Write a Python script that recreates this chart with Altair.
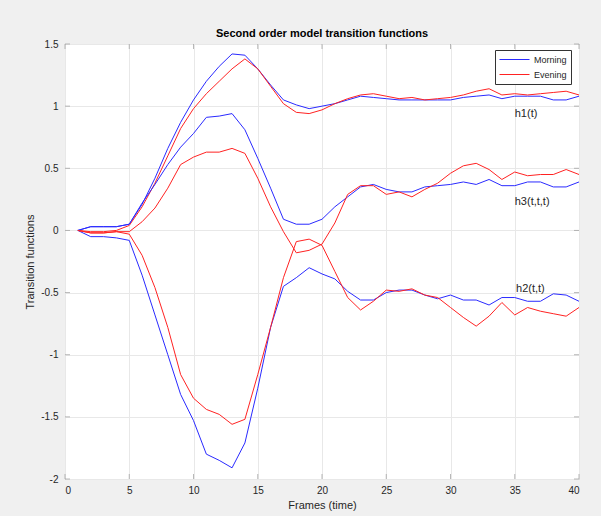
import altair as alt
import pandas as pd

# Frame index (time) shared by all curves
frames = list(range(1, 41))

# First order kernel h1(t)
h1_morning = [0, 0.03, 0.03, 0.03, 0.05, 0.21, 0.42, 0.66, 0.87, 1.05,
              1.20, 1.32, 1.42, 1.41, 1.30, 1.17, 1.05, 1.01, 0.98, 1.00,
              1.02, 1.05, 1.08, 1.07, 1.06, 1.05, 1.05, 1.05, 1.05, 1.05,
              1.07, 1.08, 1.09, 1.06, 1.08, 1.08, 1.08, 1.05, 1.05, 1.08]
h1_evening = [0, -0.01, -0.01, 0.0, 0.04, 0.19, 0.38, 0.60, 0.82, 0.98,
              1.10, 1.20, 1.30, 1.38, 1.30, 1.16, 1.02, 0.95, 0.94, 0.97,
              1.02, 1.06, 1.09, 1.10, 1.08, 1.06, 1.07, 1.05, 1.06, 1.07,
              1.09, 1.12, 1.14, 1.09, 1.10, 1.09, 1.10, 1.11, 1.12, 1.09]

# Second order kernel diagonal h2(t,t)
h2_morning = [0, -0.05, -0.05, -0.06, -0.08, -0.36, -0.68, -1.00, -1.32, -1.53,
              -1.80, -1.85, -1.91, -1.71, -1.27, -0.78, -0.45, -0.38, -0.30, -0.35,
              -0.39, -0.49, -0.56, -0.56, -0.50, -0.48, -0.48, -0.52, -0.55, -0.52,
              -0.56, -0.56, -0.60, -0.54, -0.54, -0.57, -0.57, -0.51, -0.52, -0.57]
h2_evening = [0, -0.02, -0.02, -0.01, -0.03, -0.20, -0.46, -0.78, -1.16, -1.35,
              -1.44, -1.48, -1.56, -1.52, -1.16, -0.78, -0.38, -0.09, -0.07, -0.12,
              -0.33, -0.54, -0.64, -0.57, -0.48, -0.49, -0.47, -0.52, -0.54, -0.62,
              -0.70, -0.77, -0.69, -0.58, -0.68, -0.62, -0.65, -0.67, -0.69, -0.62]

# Third order kernel diagonal h3(t,t,t)
h3_morning = [0, 0.03, 0.03, 0.03, 0.05, 0.22, 0.37, 0.53, 0.67, 0.78,
              0.91, 0.92, 0.94, 0.81, 0.58, 0.34, 0.09, 0.05, 0.05, 0.09,
              0.19, 0.27, 0.35, 0.37, 0.33, 0.31, 0.31, 0.35, 0.36, 0.37,
              0.39, 0.37, 0.41, 0.36, 0.36, 0.39, 0.39, 0.35, 0.35, 0.39]
h3_evening = [0, -0.02, -0.02, -0.01, -0.01, 0.07, 0.18, 0.34, 0.53, 0.59,
              0.63, 0.63, 0.66, 0.62, 0.42, 0.19, -0.01, -0.18, -0.16, -0.11,
              0.06, 0.29, 0.36, 0.36, 0.29, 0.31, 0.27, 0.33, 0.38, 0.46,
              0.52, 0.54, 0.49, 0.41, 0.47, 0.44, 0.45, 0.45, 0.49, 0.45]

sessions = ["Morning", "Evening"]
session_colors = ["#2a2aff", "#ff2222"]

# Curve annotations (name, frame, value)
label_text = ["h1(t)", "h3(t,t,t)", "h2(t,t)"]
label_x = [35.0, 35.0, 35.1]
label_y = [0.94, 0.23, -0.47]

x_ticks = [0, 5, 10, 15, 20, 25, 30, 35, 40]
y_ticks = [-2, -1.5, -1, -0.5, 0, 0.5, 1, 1.5]

series = {
    ("h1", "Morning"): h1_morning, ("h1", "Evening"): h1_evening,
    ("h2", "Morning"): h2_morning, ("h2", "Evening"): h2_evening,
    ("h3", "Morning"): h3_morning, ("h3", "Evening"): h3_evening,
}
rows = []
for (func, sess), vals in series.items():
    for f, v in zip(frames, vals):
        rows.append({"frame": f, "value": v, "func": func, "session": sess,
                     "curve": func + sess})
df = pd.DataFrame(rows)

W, H = 514, 435
xs = alt.Scale(domain=[0, 40], nice=False)
ys = alt.Scale(domain=[-2, 1.5], nice=False)
FONT = "Liberation Sans"
TXT = "#262626"
FRAME = "#9a9a9a"
PLAIN = "datum.value + ''"

# Legend line samples: a wide custom path so the swatch reads as a line segment
legend = alt.Legend(
    title=None, orient="none", legendX=430, legendY=6,
    fillColor="white", strokeColor="#333333", padding=4,
    symbolType="M-1,0H5", symbolSize=100, symbolStrokeWidth=1,
    labelFontSize=9, labelFont=FONT, labelColor=TXT, rowPadding=4, labelOffset=24,
)

lines = alt.Chart(df).mark_line(strokeWidth=1, clip=True).encode(
    x=alt.X("frame:Q", scale=xs,
            axis=alt.Axis(values=x_ticks, title="Frames (time)", grid=True,
                          ticks=False, labelPadding=6, titlePadding=4,
                          labelExpr=PLAIN)),
    y=alt.Y("value:Q", scale=ys,
            axis=alt.Axis(values=y_ticks, title="Transition functions", grid=True,
                          ticks=False, labelPadding=7, titlePadding=5,
                          labelExpr=PLAIN)),
    color=alt.Color("session:N",
                    scale=alt.Scale(domain=sessions, range=session_colors),
                    sort=sessions, legend=legend),
    detail="curve:N",
    order="frame:Q",
)

labels_df = pd.DataFrame({"t": label_text, "x": label_x, "y": label_y})
labels = alt.Chart(labels_df).mark_text(align="left", baseline="middle", fontSize=11,
                                        font=FONT, color=TXT).encode(
    x=alt.X("x:Q", scale=xs), y=alt.Y("y:Q", scale=ys), text="t:N")

xt = pd.DataFrame({"v": x_ticks})
yt = pd.DataFrame({"v": y_ticks})
tick_kw = dict(color=FRAME, thickness=1, size=5)
x_bottom = alt.Chart(xt).mark_tick(orient="vertical", yOffset=-2.5, **tick_kw).encode(
    x=alt.X("v:Q", scale=xs), y=alt.value(H))
x_top = alt.Chart(xt).mark_tick(orient="vertical", yOffset=2.5, **tick_kw).encode(
    x=alt.X("v:Q", scale=xs), y=alt.value(0))
y_left = alt.Chart(yt).mark_tick(orient="horizontal", xOffset=2.5, **tick_kw).encode(
    y=alt.Y("v:Q", scale=ys), x=alt.value(0))
y_right = alt.Chart(yt).mark_tick(orient="horizontal", xOffset=-2.5, **tick_kw).encode(
    y=alt.Y("v:Q", scale=ys), x=alt.value(W))

chart = alt.layer(lines, labels, x_bottom, x_top, y_left, y_right).properties(
    width=W, height=H,
    title=alt.TitleParams("Second order model transition functions", fontSize=11,
                          font=FONT, fontWeight="bold", color="#000000", offset=0),
    autosize=alt.AutoSizeParams(type="none"),
    padding={"left": 65, "top": 44, "right": 22, "bottom": 37},
    background="#f0f0f0",
).configure_view(
    fill="white", stroke=FRAME, strokeWidth=1,
).configure_axis(
    domain=False, gridColor="#e8e8e8", gridWidth=1,
    labelFont=FONT, labelFontSize=10, labelColor=TXT,
    titleFont=FONT, titleFontSize=11, titleColor=TXT, titleFontWeight="normal",
)

chart.save("out.html", embed_options={"renderer": "svg", "actions": False})
